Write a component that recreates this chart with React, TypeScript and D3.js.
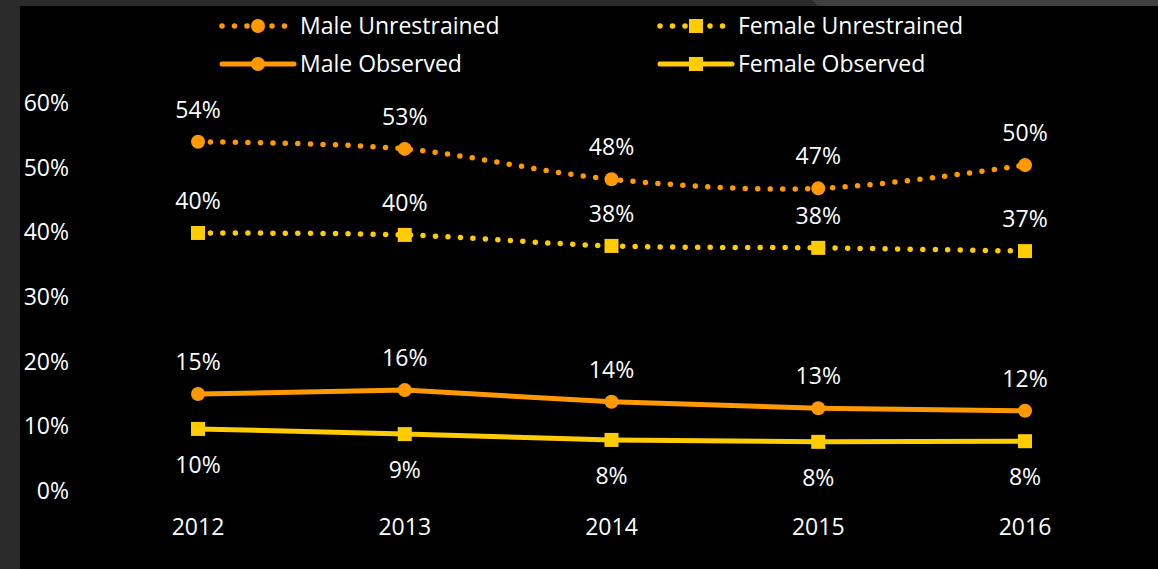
import React from "react";
import * as d3 from "d3";

const years = ["2012", "2013", "2014", "2015", "2016"];
const maleUnrestrained = [0.54, 0.529, 0.482, 0.468, 0.504];
const femaleUnrestrained = [0.399, 0.396, 0.379, 0.376, 0.371];
const maleObserved = [0.15, 0.156, 0.138, 0.128, 0.124];
const femaleObserved = [0.096, 0.088, 0.079, 0.076, 0.077];
const yTicks = [0, 0.1, 0.2, 0.3, 0.4, 0.5, 0.6];

const ORANGE = "#FF9900";
const YELLOW = "#FFCC00";
const FONT = "'Open Sans', sans-serif";
const FS = 23;

type Series = {
  name: string;
  values: number[];
  color: string;
  dotted: boolean;
  marker: "circle" | "square";
  labelBelow: boolean;
};

const series: Series[] = [
  { name: "Male Unrestrained", values: maleUnrestrained, color: ORANGE, dotted: true, marker: "circle", labelBelow: false },
  { name: "Female Unrestrained", values: femaleUnrestrained, color: YELLOW, dotted: true, marker: "square", labelBelow: false },
  { name: "Male Observed", values: maleObserved, color: ORANGE, dotted: false, marker: "circle", labelBelow: false },
  { name: "Female Observed", values: femaleObserved, color: YELLOW, dotted: false, marker: "square", labelBelow: true },
];

const W = 1158;
const H = 569;

function Marker({ type, x, y, color, size }: { type: string; x: number; y: number; color: string; size: number }) {
  if (type === "circle") return <circle cx={x} cy={y} r={size / 2} fill={color} />;
  return <rect x={x - size / 2} y={y - size / 2} width={size} height={size} fill={color} />;
}

export default function App() {
  const x = d3.scalePoint<string>().domain(years).range([198, 1025]);
  const y = d3.scaleLinear().domain([0, 0.6]).range([491, 103]);
  const fmt = d3.format(".0%");

  const smooth = d3
    .line<number>()
    .x((_, i) => x(years[i]) as number)
    .y((d) => y(d))
    .curve(d3.curveCatmullRom.alpha(0));
  const straight = d3
    .line<number>()
    .x((_, i) => x(years[i]) as number)
    .y((d) => y(d));

  const legendPos = [
    { x: 222, y: 26 },
    { x: 660, y: 26 },
    { x: 222, y: 64 },
    { x: 660, y: 64 },
  ];

  return (
    <svg
      width={W}
      height={H}
      style={{ position: "absolute", left: 0, top: 0, display: "block" }}
      fontFamily={FONT}
    >
      <rect x={0} y={0} width={W} height={H} fill="#2b2b2b" />
      <polygon points={`812,0 ${W},0 ${W},6 818,6`} fill="#404040" />
      <rect x={20} y={6} width={W - 20} height={H - 6} fill="#000" />

      {/* y axis labels */}
      {yTicks.map((t) => (
        <text key={t} x={69} y={y(t)} dy="0.35em" textAnchor="end" fill="#fff" fontSize={FS}>
          {fmt(t)}
        </text>
      ))}
      {/* x axis labels */}
      {years.map((yr) => (
        <text key={yr} x={x(yr)} y={527} dy="0.35em" textAnchor="middle" fill="#fff" fontSize={FS}>
          {yr}
        </text>
      ))}

      {/* lines */}
      {series.map((s) => (
        <path
          key={s.name}
          d={(s.dotted ? smooth : straight)(s.values) || ""}
          fill="none"
          stroke={s.color}
          strokeWidth={s.dotted ? 5.5 : 5}
          strokeLinecap="round"
          strokeDasharray={s.dotted ? "0 12.5" : undefined}
        />
      ))}

      {/* markers */}
      {series.map((s) =>
        s.values.map((v, i) => (
          <Marker key={s.name + i} type={s.marker} x={x(years[i]) as number} y={y(v)} color={s.color} size={14} />
        ))
      )}

      {/* data labels */}
      {series.map((s) =>
        s.values.map((v, i) => (
          <text
            key={s.name + "l" + i}
            x={x(years[i]) as number}
            y={y(v) + (s.labelBelow ? 36 : -32)}
            dy="0.35em"
            textAnchor="middle"
            fill="#fff"
            fontSize={FS}
          >
            {fmt(v)}
          </text>
        ))
      )}

      {/* legend */}
      {series.map((s, i) => {
        const p = legendPos[i];
        return (
          <g key={s.name + "leg"}>
            <line
              x1={p.x}
              x2={p.x + 72}
              y1={p.y}
              y2={p.y}
              stroke={s.color}
              strokeWidth={s.dotted ? 5.5 : 5}
              strokeLinecap="round"
              strokeDasharray={s.dotted ? "0 12.5" : undefined}
            />
            <Marker type={s.marker} x={p.x + 36} y={p.y} color={s.color} size={14} />
            <text x={p.x + 78} y={p.y} dy="0.35em" fill="#fff" fontSize={FS}>
              {s.name}
            </text>
          </g>
        );
      })}
    </svg>
  );
}
